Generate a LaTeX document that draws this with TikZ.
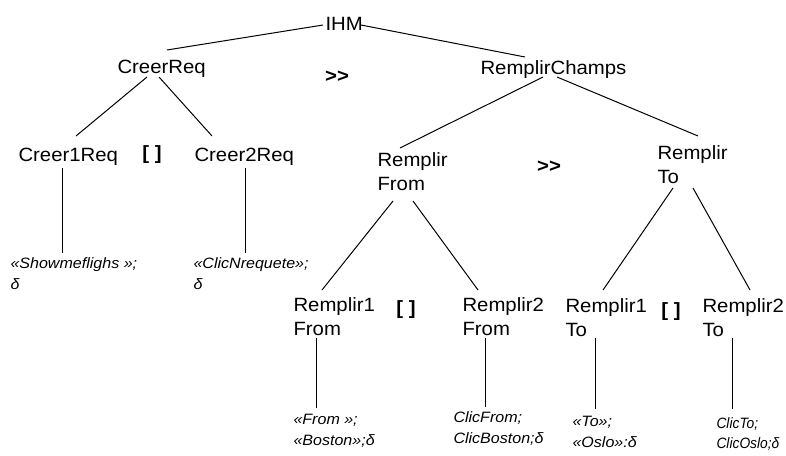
\documentclass[tikz,border=0pt]{standalone}
\usepackage{fontspec}
\newfontfamily\termfont[FakeStretch=1.06]{Liberation Sans}
\newfontfamily\leaffont[FakeStretch=1.07]{Liberation Sans}
\newfontfamily\narrowleaf[FakeStretch=0.92]{Liberation Sans}
\usetikzlibrary{positioning}

\begin{document}
\begin{tikzpicture}[
    x=1pt, y=-1pt,
    line width=1pt,
    term/.style={inner sep=0pt, anchor=base west, font=\termfont\fontsize{19.2}{24}\selectfont},
    multi/.style={inner sep=0pt, anchor=north west, align=left, font=\termfont\fontsize{19.2}{24}\selectfont},
    leaf/.style={inner sep=0pt, anchor=north west, align=left, font=\leaffont\itshape\fontsize{15}{21}\selectfont},
    op/.style={inner sep=0pt, font=\termfont\bfseries\fontsize{19.2}{24}\selectfont}
]
    \useasboundingbox (0,0) rectangle (786,455);

    % task tree
    \node[term] (ihm) at (325,30) {IHM};
    \node[term] (creer) at (117,73) {CreerReq};
    \node[term] (champs) at (480,74) {RemplirChamps};
    \node[term] (creer1) at (18,161) {Creer1Req};
    \node[term] (creer2) at (194,161) {Creer2Req};
    \node[multi] (from) at (377,152) {Remplir\\From};
    \node[multi] (to) at (657,145) {Remplir\\To};
    \node[multi] (from1) at (293,297) {Remplir1\\From};
    \node[multi] (from2) at (462,297) {Remplir2\\From};
    \node[multi] (to1) at (565,298) {Remplir1\\To};
    \node[multi] (to2) at (702,298) {Remplir2\\To};

    % actions
    \node[leaf] (show) at (10,257) {«Showmeflighs »;\\δ};
    \node[leaf] (clicn) at (193,257) {«ClicNrequete»;\\δ};
    \node[leaf] (boston) at (293,414) {«From »;\\«Boston»;δ};
    \node[leaf] (clicb) at (453,411) {ClicFrom;\\ClicBoston;δ};
    \node[leaf] (oslo) at (572,416) {«To»;\\«Oslo»:δ};
    \node[leaf, font=\narrowleaf\itshape\fontsize{15}{20}\selectfont] (clico) at (716,417) {ClicTo;\\ClicOslo;δ};

    % operators
    \node[op] (seq1) at (337,77) {>>};
    \node[op] (alt1) at (152,155) {[ ]};
    \node[op] (seq2) at (549,167) {>>};
    \node[op] (alt2) at (406,310) {[ ]};
    \node[op] (alt3) at (671,312) {[ ]};

    \draw ([shift={(-2,-5)}]ihm.base west) -- ([shift={(50,-23)}]creer.base west);
    \draw ([shift={(36,-5)}]ihm.base west) -- ([shift={(45,-17)}]champs.base west);
    \draw ([shift={(30,4)}]creer.base west) -- ([shift={(58,-25)}]creer1.base west);
    \draw ([shift={(42,4)}]creer.base west) -- ([shift={(18,-25)}]creer2.base west);
    \draw ([shift={(44,7)}]creer1.base west) -- ([shift={(52,-4)}]show.north west);
    \draw ([shift={(51,7)}]creer2.base west) -- ([shift={(52,-4)}]clicn.north west);
    \draw ([shift={(63,3)}]champs.base west) -- ([shift={(23,-4)}]from.north west);
    \draw ([shift={(77,3)}]champs.base west) -- ([shift={(41,-9)}]to.north west);
    \draw ([shift={(16,49)}]from.north west) -- ([shift={(29,-7)}]from1.north west);
    \draw ([shift={(36,49)}]from.north west) -- ([shift={(16,-7)}]from2.north west);
    \draw ([shift={(16,43)}]to.north west) -- ([shift={(38,-8)}]to1.north west);
    \draw ([shift={(36,43)}]to.north west) -- ([shift={(48,-8)}]to2.north west);
    \draw ([shift={(23,41)}]from1.north west) -- ([shift={(23,-6)}]boston.north west);
    \draw ([shift={(23,41)}]from2.north west) -- ([shift={(32,-4)}]clicb.north west);
    \draw ([shift={(30,40)}]to1.north west) -- ([shift={(23,-7)}]oslo.north west);
    \draw ([shift={(30,40)}]to2.north west) -- ([shift={(16,-8)}]clico.north west);
\end{tikzpicture}
\end{document}
